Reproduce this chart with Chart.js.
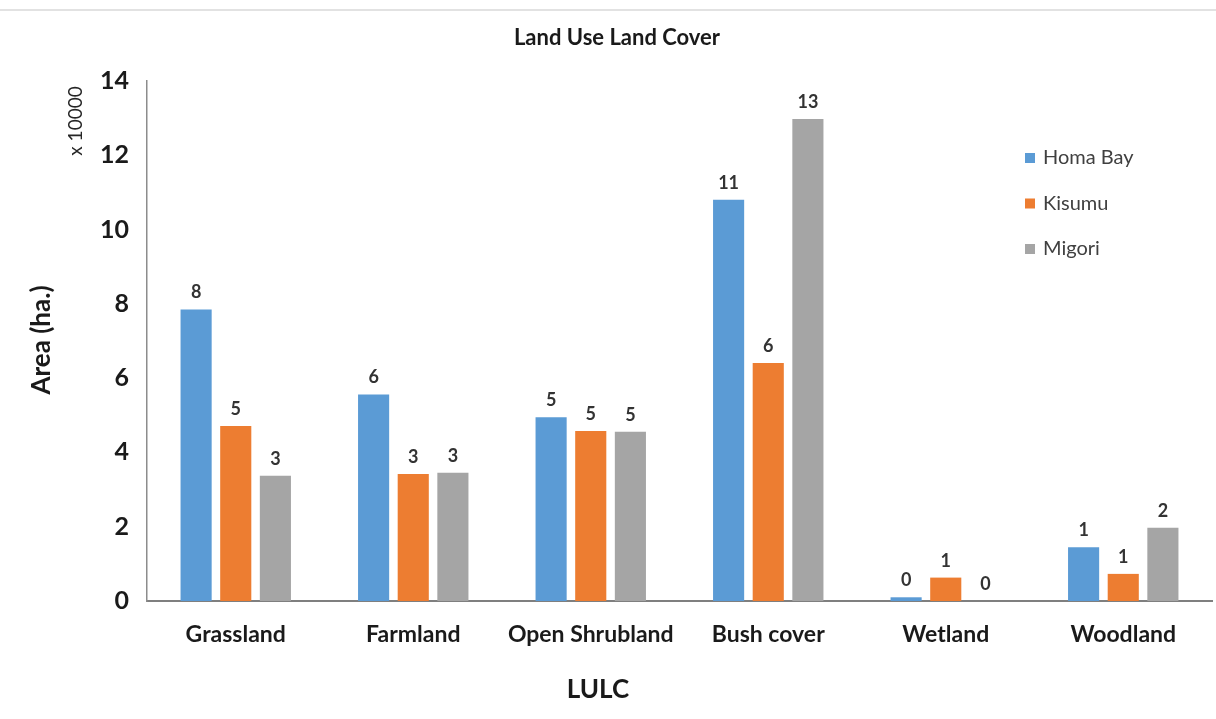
<!DOCTYPE html>
<html>
<head>
<meta charset="utf-8">
<script src="https://cdn.jsdelivr.net/npm/chart.js@4.4.1/dist/chart.umd.min.js"></script>
<style>
html,body{margin:0;padding:0;background:#fff;}
#wrap{position:relative;width:1216px;height:719px;}
</style>
</head>
<body>
<div id="wrap"><canvas id="c" width="1216" height="719"></canvas></div>
<script>
const categories = ["Grassland", "Farmland", "Open Shrubland", "Bush cover", "Wetland", "Woodland"];
const homaBay = [7.85, 5.56, 4.95, 10.8, 0.1, 1.45];
const kisumu  = [4.71, 3.42, 4.58, 6.41, 0.63, 0.73];
const migori  = [3.37, 3.45, 4.56, 12.98, 0, 1.97];
const seriesNames = ["Homa Bay", "Kisumu", "Migori"];
const seriesColors = ["#5B9BD5", "#ED7D31", "#A5A5A5"];
const yTicks = [0, 2, 4, 6, 8, 10, 12, 14];
const chartTitle = "Land Use Land Cover";
const xTitle = "LULC";
const yTitle = "Area (ha.)";
const unitLabel = "x 10000";

const FONT = "Lato, 'Open Sans', sans-serif";

const textPlugin = {
  id: 'texts',
  beforeDraw(chart) {
    const ctx = chart.ctx;
    ctx.save();
    ctx.fillStyle = '#e2e2e2';
    ctx.fillRect(0, 9, 1216, 2);
    ctx.restore();
  },
  afterDraw(chart) {
    const ctx = chart.ctx;
    ctx.save();
    // title
    ctx.fillStyle = '#1a1a1a';
    ctx.font = "bold 22px " + FONT;
    ctx.textAlign = 'center';
    ctx.textBaseline = 'middle';
    ctx.fillText(chartTitle, 617, 38);
    // x title
    ctx.font = "bold 26px " + FONT;
    ctx.fillText(xTitle, 598, 690);
    // y title
    ctx.save();
    ctx.translate(42, 340);
    ctx.rotate(-Math.PI / 2);
    ctx.fillText(yTitle, 0, 0);
    ctx.restore();
    // unit label
    ctx.save();
    ctx.translate(76, 121);
    ctx.rotate(-Math.PI / 2);
    ctx.font = "19px " + FONT;
    ctx.fillStyle = '#262626';
    ctx.fillText(unitLabel, 0, 0);
    ctx.restore();
    // data labels
    ctx.font = "bold 18px " + FONT;
    ctx.fillStyle = '#333333';
    ctx.textBaseline = 'alphabetic';
    chart.data.datasets.forEach((ds, di) => {
      const meta = chart.getDatasetMeta(di);
      meta.data.forEach((bar, i) => {
        const v = ds.data[i];
        ctx.fillText(String(Math.round(v)), bar.x, bar.y - 11);
      });
    });
    // legend
    ctx.font = "20px " + FONT;
    ctx.textAlign = 'left';
    ctx.textBaseline = 'middle';
    chart.data.datasets.forEach((ds, di) => {
      const y = 158 + di * 45.5;
      ctx.fillStyle = ds.backgroundColor;
      ctx.fillRect(1025, y - 5, 10, 10);
      ctx.fillStyle = '#404040';
      ctx.fillText(ds.label, 1043, y);
    });
    ctx.restore();
  }
};

const seriesData = [homaBay, kisumu, migori];
new Chart(document.getElementById('c'), {
  type: 'bar',
  data: {
    labels: categories,
    datasets: seriesData.map((d, i) => ({
      label: seriesNames[i],
      data: d,
      backgroundColor: seriesColors[i],
      borderWidth: 0,
      categoryPercentage: 0.67,
      barPercentage: 0.785
    }))
  },
  options: {
    responsive: false,
    animation: false,
    layout: { padding: { left: 0, right: 4, top: 81, bottom: 0 } },
    plugins: { legend: { display: false }, title: { display: false }, tooltip: { enabled: false } },
    scales: {
      x: {
        grid: { display: false, drawTicks: false },
        border: { display: true, color: '#7f7f7f', width: 2 },
        ticks: { color: '#1a1a1a', font: { family: FONT, size: 23, weight: 'bold' }, padding: 20, maxRotation: 0, autoSkip: false },
        afterFit(s) { s.height = 118; }
      },
      y: {
        min: 0, max: 14,
        afterBuildTicks(s) { s.ticks = yTicks.map(v => ({ value: v })); },
        grid: { display: false, drawTicks: false },
        border: { display: true, color: '#8c8c8c', width: 1.5 },
        ticks: { color: '#1a1a1a', font: { family: FONT, size: 25, weight: 'bold' }, padding: 18 },
        afterFit(s) { s.width = 147; }
      }
    }
  },
  plugins: [textPlugin]
});
</script>
</body>
</html>
